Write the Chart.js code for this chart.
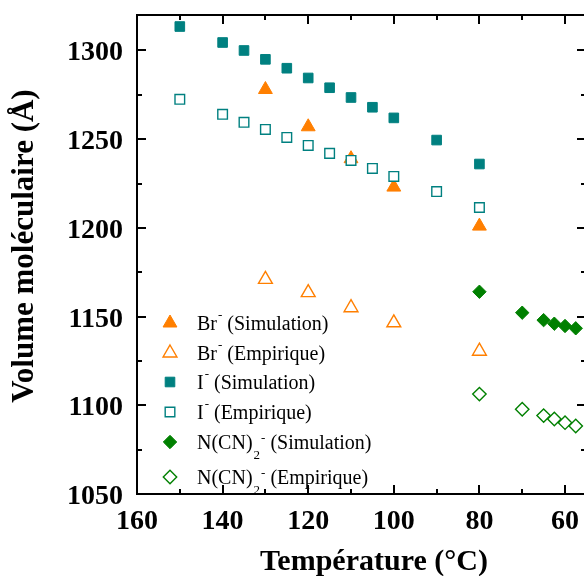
<!DOCTYPE html>
<html>
<head>
<meta charset="utf-8">
<script src="https://cdn.jsdelivr.net/npm/chart.js@4.4.1/dist/chart.umd.min.js"></script>
<style>
  html, body { margin: 0; padding: 0; background: #fff; overflow: hidden; }
  canvas { display: block; }
</style>
</head>
<body>
<canvas id="chart" width="590" height="576"></canvas>
<script>
// Temperatures (°C) and molecular volumes (Å³)
const brTemps = [130, 120, 110, 100, 80];
const brSimulation = [1278, 1257, 1239, 1223, 1201];
const brEmpirique = [1171, 1163.5, 1155, 1146.5, 1130.5];

const iTemps = [150, 140, 135, 130, 125, 120, 115, 110, 105, 100, 90, 80];
const iSimulation = [1313.5, 1304.5, 1300, 1295, 1290, 1284.5, 1279, 1273.5, 1268, 1262, 1249.5, 1236];
const iEmpirique = [1272.5, 1264, 1259.5, 1255.5, 1251, 1246.5, 1242, 1238, 1233.5, 1229, 1220.5, 1211.5];

const ncnTemps = [80, 70, 65, 62.5, 60, 57.5];
const ncnSimulation = [1164, 1152.2, 1148, 1146, 1144.7, 1143.4];
const ncnEmpirique = [1106.3, 1097.8, 1094.2, 1092.3, 1090.2, 1088.3];

const xTicks = [160, 140, 120, 100, 80, 60];
const xMinorTicks = [150, 130, 110, 90, 70];
const yTicks = [1300, 1250, 1200, 1150, 1100, 1050];
const yMinorTicks = [1275, 1225, 1175, 1125, 1075];

const ORANGE = '#ff7f00';
const TEAL = '#008080';
const GREEN = '#008000';
const SERIF = '"Liberation Serif", "Times New Roman", serif';

function toPoints(xs, ys) {
    return xs.map((t, i) => ({ x: t, y: ys[i] }));
}

// legend rows: marker style, colour, filled?, label parts
const legendRows = [
    { style: 'triangle', color: ORANGE, filled: true,  base: 'Br', sub: '', rest: '(Simulation)', y: 323 },
    { style: 'triangle', color: ORANGE, filled: false, base: 'Br', sub: '', rest: '(Empirique)', y: 353 },
    { style: 'rect',     color: TEAL,   filled: true,  base: 'I',  sub: '', rest: '(Simulation)', y: 382 },
    { style: 'rect',     color: TEAL,   filled: false, base: 'I',  sub: '', rest: '(Empirique)', y: 412 },
    { style: 'rectRot',  color: GREEN,  filled: true,  base: 'N(CN)', sub: '2', rest: '(Simulation)', y: 442 },
    { style: 'rectRot',  color: GREEN,  filled: false, base: 'N(CN)', sub: '2', rest: '(Empirique)', y: 477 }
];

function markerRadius(style) {
    if (style === 'triangle') return 8;
    if (style === 'rect') return 6.8;
    return 6.7;
}

function drawMarker(ctx, style, x, y, r) {
    ctx.beginPath();
    if (style === 'triangle') {
        ctx.moveTo(x, y - r);
        ctx.lineTo(x + r * Math.sin(2 * Math.PI / 3), y - r * Math.cos(2 * Math.PI / 3));
        ctx.lineTo(x + r * Math.sin(4 * Math.PI / 3), y - r * Math.cos(4 * Math.PI / 3));
    } else if (style === 'rect') {
        const s = Math.SQRT1_2 * r;
        ctx.rect(x - s, y - s, 2 * s, 2 * s);
    } else {
        ctx.moveTo(x - r, y);
        ctx.lineTo(x, y - r);
        ctx.lineTo(x + r, y);
        ctx.lineTo(x, y + r);
    }
    ctx.closePath();
}

function makeSet(label, xs, ys, row, order) {
    return {
        label: label,
        data: toPoints(xs, ys),
        order: order,
        pointStyle: row.style,
        pointRadius: markerRadius(row.style),
        pointBackgroundColor: row.filled ? row.color : '#ffffff',
        pointBorderColor: row.color,
        pointBorderWidth: row.filled ? 1 : 1.4,
        showLine: false
    };
}

const framePlugin = {
    id: 'framePlugin',
    afterDraw(chart) {
        const { ctx, chartArea: a, scales } = chart;
        const x = scales.x, y = scales.y;
        ctx.save();
        ctx.strokeStyle = '#000';
        ctx.lineWidth = 2;
        ctx.strokeRect(a.left, a.top, a.right - a.left, a.bottom - a.top);

        // inward ticks on all four sides
        ctx.beginPath();
        const tick = (len, vals, horizontal) => {
            vals.forEach(v => {
                if (horizontal) {
                    const px = Math.round(x.getPixelForValue(v));
                    ctx.moveTo(px, a.bottom); ctx.lineTo(px, a.bottom - len);
                    ctx.moveTo(px, a.top); ctx.lineTo(px, a.top + len);
                } else {
                    const py = Math.round(y.getPixelForValue(v));
                    ctx.moveTo(a.left, py); ctx.lineTo(a.left + len, py);
                    ctx.moveTo(a.right, py); ctx.lineTo(a.right - len, py);
                }
            });
        };
        tick(9, xTicks, true);
        tick(5, xMinorTicks, true);
        tick(9, yTicks, false);
        tick(5, yMinorTicks, false);
        ctx.stroke();

        // tick labels
        ctx.fillStyle = '#000';
        ctx.font = 'bold 28px ' + SERIF;
        ctx.textAlign = 'center';
        ctx.textBaseline = 'alphabetic';
        xTicks.forEach(v => ctx.fillText(String(v), x.getPixelForValue(v), 529));
        ctx.textAlign = 'right';
        yTicks.forEach(v => ctx.fillText(String(v), a.left - 14, y.getPixelForValue(v) + 10));

        // axis titles
        ctx.font = 'bold 30px ' + SERIF;
        ctx.textAlign = 'center';
        ctx.fillText('Température (°C)', 374, 570);
        ctx.save();
        ctx.translate(33, 246);
        ctx.rotate(-Math.PI / 2);
        ctx.font = 'bold 31px ' + SERIF;
        ctx.fillText('Volume moléculaire (Å)', 0, 0);
        ctx.restore();

        // legend
        legendRows.forEach(row => {
            ctx.lineWidth = row.filled ? 1 : 1.4;
            ctx.strokeStyle = row.color;
            ctx.fillStyle = row.filled ? row.color : '#ffffff';
            drawMarker(ctx, row.style, 170, row.y, markerRadius(row.style));
            ctx.fill();
            ctx.stroke();

            ctx.fillStyle = '#000';
            ctx.textAlign = 'left';
            ctx.font = '20px ' + SERIF;
            const base = row.y + 7;
            let tx = 197;
            ctx.fillText(row.base, tx, base);
            tx += ctx.measureText(row.base).width + 1;
            ctx.font = '13px ' + SERIF;
            if (row.sub) {
                ctx.fillText(row.sub, tx, base + 10);
                tx += ctx.measureText(row.sub).width + 1;
                ctx.fillText('-', tx, base - 7);
            } else {
                ctx.fillText('-', tx, base - 11);
            }
            tx += ctx.measureText('-').width;
            ctx.font = '20px ' + SERIF;
            ctx.fillText(' ' + row.rest, tx, base);
        });
        ctx.restore();
    }
};

new Chart(document.getElementById('chart'), {
    type: 'scatter',
    data: {
        datasets: [
            makeSet('Br- (Simulation)', brTemps, brSimulation, legendRows[0], 6),
            makeSet('Br- (Empirique)', brTemps, brEmpirique, legendRows[1], 5),
            makeSet('I- (Simulation)', iTemps, iSimulation, legendRows[2], 4),
            makeSet('I- (Empirique)', iTemps, iEmpirique, legendRows[3], 3),
            makeSet('N(CN)2- (Simulation)', ncnTemps, ncnSimulation, legendRows[4], 2),
            makeSet('N(CN)2- (Empirique)', ncnTemps, ncnEmpirique, legendRows[5], 1)
        ]
    },
    options: {
        responsive: false,
        animation: false,
        layout: { autoPadding: false, padding: { left: 137, top: 15, right: 4, bottom: 82 } },
        scales: {
            x: { type: 'linear', reverse: true, min: 55.1, max: 160, display: false },
            y: { type: 'linear', min: 1050, max: 1320, display: false }
        },
        plugins: {
            legend: { display: false },
            tooltip: { enabled: false }
        }
    },
    plugins: [framePlugin]
});
</script>
</body>
</html>
